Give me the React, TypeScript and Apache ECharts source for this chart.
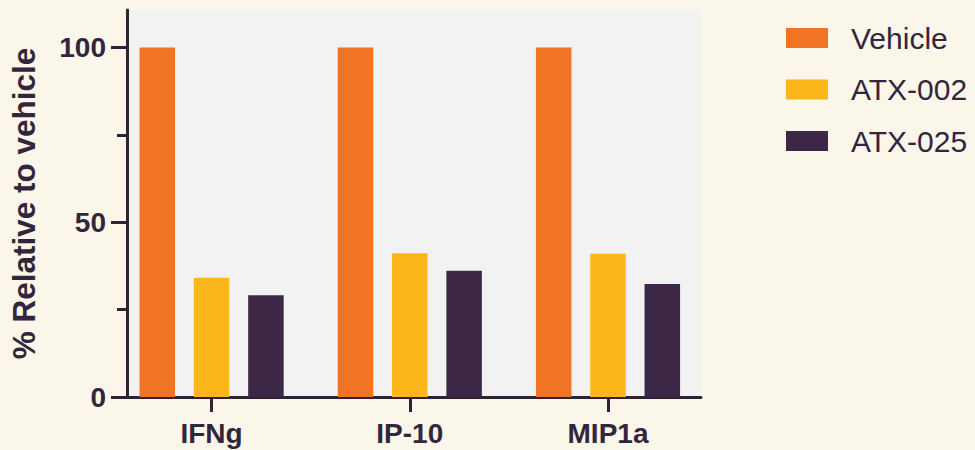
import React, { useEffect, useRef } from "react";
import * as echarts from "echarts";

const categories = ["IFNg", "IP-10", "MIP1a"];
const vehicle = [100, 100, 100];
const atx002 = [34.1, 41.1, 41.0];
const atx025 = [29.1, 36.1, 32.3];
const seriesNames = ["Vehicle", "ATX-002", "ATX-025"];
const yLabelTicks = [0, 50, 100];
const yMinorTicks = [25, 75];
const yMax = 110.7;

const INK = "#32263C";
const AXIS = "#2E2236";
const FONT = "'Liberation Sans', Arial, sans-serif";

export default function App() {
  const ref = useRef<HTMLDivElement>(null);
  useEffect(() => {
    if (!ref.current) return;
    const chart = echarts.init(ref.current, undefined, { renderer: "svg" });
    const colors = ["#F07424", "#FCB61B", "#3C2846"];
    const values = [vehicle, atx002, atx025];
    chart.setOption({
      animation: false,
      backgroundColor: "#FAF6E9",
      textStyle: { fontFamily: FONT },
      grid: [
        {
          left: 122.5,
          right: 274,
          top: 10,
          bottom: 53,
          show: true,
          backgroundColor: "#F2F2F2",
          borderWidth: 0,
        },
        {
          left: 112.5,
          right: 267.9,
          top: 10,
          bottom: 53,
        },
      ],
      legend: {
        orient: "vertical",
        left: 786,
        top: 23,
        padding: 0,
        itemWidth: 42,
        itemHeight: 20,
        itemGap: 21.5,
        icon: "rect",
        data: seriesNames,
        textStyle: {
          fontFamily: FONT,
          fontSize: 30,
          lineHeight: 30,
          color: INK,
          padding: [0, 0, 0, 18],
        },
      },
      xAxis: [
        {
          gridIndex: 0,
          type: "value",
          min: 0,
          max: 1,
          axisLine: { show: true, lineStyle: { color: AXIS, width: 3 } },
          axisTick: { show: false },
          axisLabel: { show: false },
          splitLine: { show: false },
        },
        {
          gridIndex: 1,
          type: "category",
          data: categories,
          axisLine: { show: false },
          axisTick: {
            show: true,
            alignWithLabel: true,
            length: 15,
            lineStyle: { color: AXIS, width: 3 },
          },
          axisLabel: {
            fontFamily: FONT,
            fontSize: 28,
            fontWeight: "bold",
            color: INK,
            margin: 22,
          },
          splitLine: { show: false },
        },
      ],
      yAxis: [
        {
          gridIndex: 0,
          type: "value",
          min: 0,
          max: yMax,
          axisLine: { show: true, lineStyle: { color: AXIS, width: 3 } },
          axisTick: {
            show: true,
            customValues: yLabelTicks,
            length: 16,
            lineStyle: { color: AXIS, width: 3 },
          },
          axisLabel: {
            customValues: yLabelTicks,
            fontFamily: FONT,
            fontSize: 28,
            fontWeight: "bold",
            color: INK,
            margin: 21,
          },
          splitLine: { show: false },
          name: "% Relative to vehicle",
          nameLocation: "middle",
          nameGap: 87,
          nameTextStyle: {
            fontFamily: FONT,
            fontSize: 31.5,
            fontWeight: "bold",
            color: INK,
          },
        },
        {
          gridIndex: 0,
          type: "value",
          min: 0,
          max: yMax,
          position: "left",
          axisLine: { show: false },
          axisTick: {
            show: true,
            customValues: yMinorTicks,
            length: 10,
            lineStyle: { color: AXIS, width: 3 },
          },
          axisLabel: { show: false },
          splitLine: { show: false },
        },
        {
          gridIndex: 1,
          type: "value",
          min: 0,
          max: yMax,
          show: false,
          splitLine: { show: false },
        },
      ],
      series: seriesNames.map((name, i) => ({
        name,
        type: "bar",
        xAxisIndex: 1,
        yAxisIndex: 2,
        data: values[i],
        barWidth: 35.5,
        barGap: "53%",
        itemStyle: { color: colors[i] },
      })),
    });
    return () => chart.dispose();
  }, []);
  return (
    <div
      ref={ref}
      style={{ position: "fixed", left: 0, top: 0, width: 975, height: 450 }}
    />
  );
}
